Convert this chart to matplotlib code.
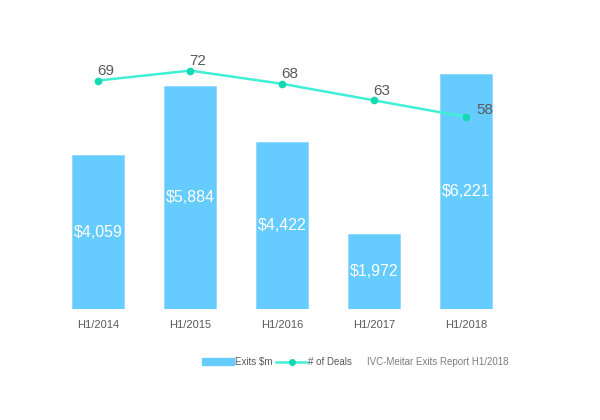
import matplotlib.pyplot as plt
from matplotlib.patches import Patch
from matplotlib.lines import Line2D

plt.rcParams['font.family'] = ['Liberation Sans', 'DejaVu Sans']

# donnees
periodes = ["H1/2014", "H1/2015", "H1/2016", "H1/2017", "H1/2018"]
exits_m = [4059, 5884, 4422, 1972, 6221]
deals = [69, 72, 68, 63, 58]
etiquettes_bar = ["$4,059", "$5,884", "$4,422", "$1,972", "$6,221"]

bleu = '#66CCFF'
turquoise = '#40F0D6'
point_col = '#12D9B0'
gris = '#595959'

fig = plt.figure(figsize=(6, 4.2), dpi=100)
ax = fig.add_axes([0.087, 0.264, 0.767, 0.631])
x = list(range(len(periodes)))

ax.bar(x, exits_m, width=0.565, color=bleu, edgecolor='#8fd8ff', linewidth=0.6, zorder=2)
for xi, v, lab in zip(x, exits_m, etiquettes_bar):
    ax.text(xi, v / 2, lab, color='white', ha='center', va='center', fontsize=11.5, zorder=3)

ax.set_xlim(-0.5, 4.5)
ax.set_ylim(0, 7000)
ax.set_yticks([])
ax.set_xticks(x)
ax.set_xticklabels(periodes, fontsize=8, color=gris)
ax.tick_params(axis='x', length=0, pad=8)
for s in ax.spines.values():
    s.set_visible(False)
ax.axhline(0, color='#d9d9d9', linestyle=':', linewidth=0.8, zorder=1)

ax2 = ax.twinx()
ax2.set_ylim(0, 80)
ax2.plot(x, deals, color=turquoise, linewidth=1.8, marker='o', markersize=4.5,
         markerfacecolor=point_col, markeredgecolor=point_col, zorder=4)
for xi, d in zip(x, deals):
    if xi == 4:
        ax2.annotate(str(d), (xi, d), xytext=(7, 0), textcoords='offset points',
                     ha='left', va='bottom', fontsize=11, color=gris)
    else:
        ax2.annotate(str(d), (xi, d), xytext=(-1, 2), textcoords='offset points',
                     ha='left', va='bottom', fontsize=11, color=gris)
ax2.set_yticks([])
for s in ax2.spines.values():
    s.set_visible(False)

handles = [Patch(facecolor=bleu, edgecolor=bleu),
           Line2D([0], [0], color=turquoise, linewidth=1.8, marker='o', markersize=4,
                  markerfacecolor=point_col, markeredgecolor=point_col)]
fig.legend(handles, ["Exits $m", "# of Deals"], loc='center', bbox_to_anchor=(0.462, 0.138),
           ncol=2, frameon=False, fontsize=7, handlelength=3.2, handletextpad=0.1,
           columnspacing=0.4, labelcolor=gris)
fig.text(0.612, 0.138, "IVC-Meitar Exits Report H1/2018", fontsize=7, color='#7f7f7f',
         ha='left', va='center')

fig.savefig("out.png", dpi=100)
